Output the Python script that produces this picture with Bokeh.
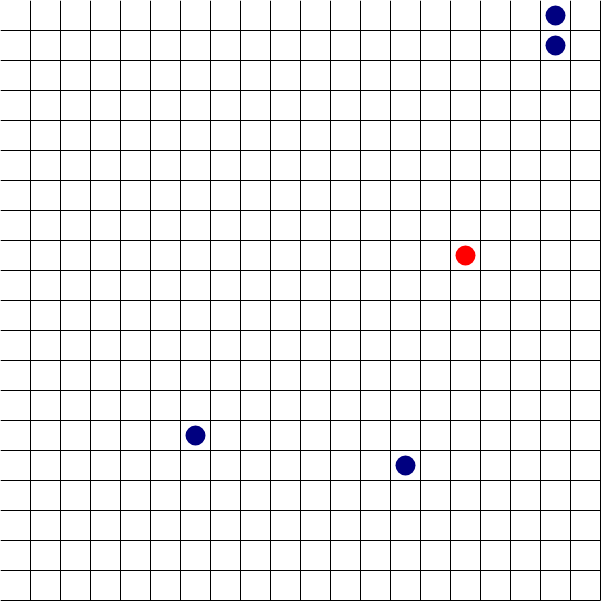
from bokeh.plotting import figure
from bokeh.models import Range1d
from bokeh.embed import file_html
from bokeh.resources import INLINE

# Grid line positions (cell index units, 20x20 board)
grid_lines = list(range(1, 21))

# Point cells (column, row counted from top-left) and colours
point_cols = [18, 18, 15, 6, 13]
point_rows = [0, 1, 8, 14, 15]
point_colors = ["#000080", "#000080", "#ff0000", "#000080", "#000080"]

W = H = 605
cell = 30.0
p = figure(width=W, height=H, output_backend="svg", toolbar_location=None,
           x_range=Range1d(0, W / cell), y_range=Range1d(H / cell, 0),
           min_border=0, background_fill_color="white", border_fill_color="white")
p.axis.visible = False
p.grid.visible = False
p.outline_line_color = None

n = grid_lines[-1]
# vertical lines
p.segment(x0=grid_lines, y0=[0] * len(grid_lines), x1=grid_lines, y1=[n] * len(grid_lines),
          line_color="black", line_width=1)
# horizontal lines
p.segment(x0=[0] * len(grid_lines), y0=grid_lines, x1=[n] * len(grid_lines), y1=grid_lines,
          line_color="black", line_width=1)

xs = [c + 0.5 for c in point_cols]
ys = [r + 0.5 for r in point_rows]
p.scatter(x=xs, y=ys, size=20, fill_color=point_colors, line_color=None)

html = file_html(p, INLINE)
html = html.replace("</head>", "<style>html,body{margin:0;padding:0;}</style></head>", 1)
open("out.html", "w").write(html)
